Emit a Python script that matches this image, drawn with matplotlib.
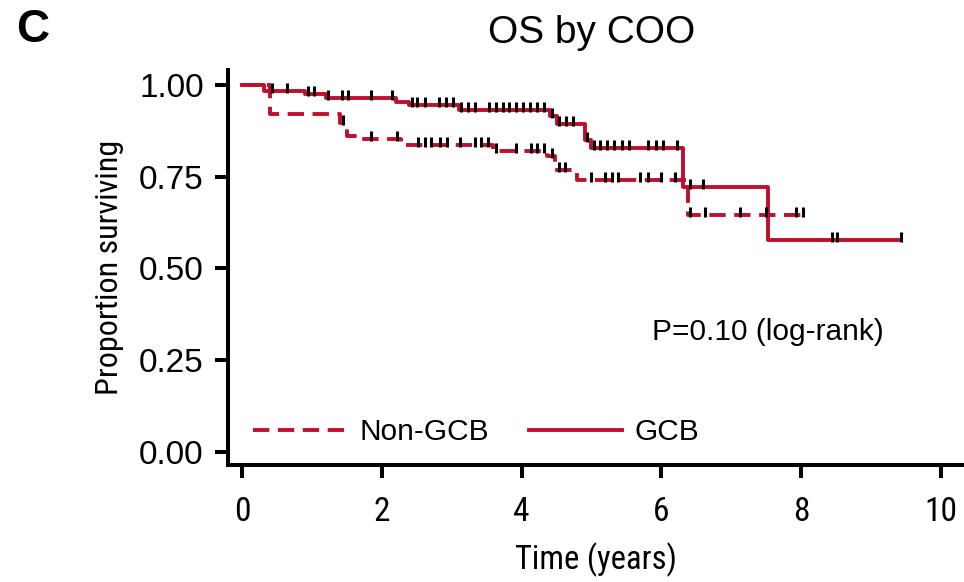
import numpy as np
import matplotlib
matplotlib.use("Agg")
import matplotlib.pyplot as plt
from matplotlib import font_manager
from matplotlib.path import Path

# step changes: time (years) -> survival after the step
gcb_t = [0, 0.31, 0.90, 1.20, 2.20, 2.39, 3.10, 4.40, 4.50, 4.91, 5.00, 6.31, 7.52, 9.43]
gcb_s = [1.0, 0.983, 0.974, 0.965, 0.953, 0.945, 0.930, 0.914, 0.894, 0.850, 0.829, 0.721, 0.578, 0.578]
gcb_cens = [0.43, 0.64, 0.94, 1.03, 1.23, 1.43, 1.52, 1.84, 2.14, 2.43, 2.51, 2.62, 2.82, 2.92,
            3.02, 3.14, 3.24, 3.33, 3.53, 3.63, 3.73, 3.82, 3.92, 4.02, 4.12, 4.22, 4.32, 4.43,
            4.54, 4.64, 4.73, 4.93, 5.03, 5.12, 5.22, 5.32, 5.43, 5.53, 5.81, 5.92, 6.03, 6.22,
            6.41, 6.60, 8.44, 8.52, 9.43]

non_t = [0, 0.40, 1.40, 1.50, 1.64, 2.28, 3.59, 4.36, 4.48, 4.79, 6.38, 8.03]
non_s = [1.0, 0.919, 0.896, 0.860, 0.851, 0.837, 0.819, 0.805, 0.768, 0.741, 0.646, 0.646]
non_cens = [1.44, 1.84, 2.22, 2.52, 2.62, 2.71, 2.83, 2.93, 3.12, 3.33, 3.42, 3.52, 3.63, 3.92,
            4.13, 4.22, 4.32, 4.43, 4.53, 4.62, 5.00, 5.19, 5.29, 5.38, 5.69, 5.81, 6.00, 6.19,
            6.41, 6.62, 7.12, 7.50, 7.93, 8.03]

xticks = [0, 2, 4, 6, 8, 10]
yticks = [0.00, 0.25, 0.50, 0.75, 1.00]

red = '#C10E2E'
plt.rcParams['font.family'] = ['Liberation Sans', 'DejaVu Sans']

# condensed face for axis labels if one is installed
installed = {f.name for f in font_manager.fontManager.ttflist}
narrow_name = None
for cand in ['Liberation Sans Narrow', 'Roboto Condensed', 'Open Sans Condensed', 'Noto Sans Condensed']:
    if cand in installed:
        narrow_name = cand
        break
if narrow_name:
    narrow = [narrow_name, 'Liberation Sans']
    shrink = 1.0
else:
    narrow = ['Liberation Sans']
    shrink = 0.82


def surv_at(times, steps, surv):
    idx = np.searchsorted(steps, times, side='right') - 1
    return np.array(surv)[idx]


fig = plt.figure(figsize=(9.64, 5.82), dpi=100)
ax = fig.add_axes([228 / 964, 1 - 465 / 582, 1 - 228 / 964, (465 - 70) / 582])

tick_mark = Path([(0, -0.25), (0, 1)])

ax.step(non_t, non_s, where='post', color=red, lw=2.8, dashes=(4.2, 2.2), label='Non-GCB', zorder=2)
ax.step(gcb_t, gcb_s, where='post', color=red, lw=2.8, label='GCB', zorder=2)
ax.plot(gcb_cens, surv_at(gcb_cens, gcb_t, gcb_s), ls='none', marker=tick_mark,
        ms=11, mew=2.2, color='black', zorder=3)
ax.plot(non_cens, surv_at(non_cens, non_t, non_s), ls='none', marker=tick_mark,
        ms=11, mew=2.2, color='black', zorder=3)

ax.set_xlim(-0.2, 10.33)
ax.set_ylim(-0.035, 1.04)
ax.set_xticks(xticks)
ax.set_yticks(yticks)
ax.set_xticklabels([str(v) for v in xticks], family=narrow, fontsize=24 * shrink)
ax.set_yticklabels(['%.2f' % v for v in yticks], fontsize=24)
ax.tick_params(length=9.5, width=2.9, color='black')
ax.tick_params(axis='x', pad=13)
ax.tick_params(axis='y', pad=8)

for side in ['top', 'right']:
    ax.spines[side].set_visible(False)
for side in ['left', 'bottom']:
    ax.spines[side].set_linewidth(2.9)

ax.set_xlabel('Time (years)', family=narrow, fontsize=23.5 * shrink, labelpad=10)
ax.set_ylabel('Proportion surviving', family=narrow, fontsize=23 * shrink, labelpad=11)

ax.text(5.87, 0.327, 'P=0.10 (log-rank)', fontsize=21.5, ha='left', va='center')

leg = ax.legend(loc='center left', bbox_to_anchor=(0.034, 0.083), ncol=2, frameon=False,
                prop={'size': 21.5}, handlelength=3.1, handletextpad=0.45,
                columnspacing=1.35, borderpad=0, borderaxespad=0)

fig.text(592 / 964, 1 - 33 / 582, 'OS by COO', fontsize=28, ha='center', va='center')
fig.text(16 / 964, 1 - 30 / 582, 'C', fontsize=33, fontweight='bold', ha='left', va='center')

fig.savefig('out.png', dpi=100)
